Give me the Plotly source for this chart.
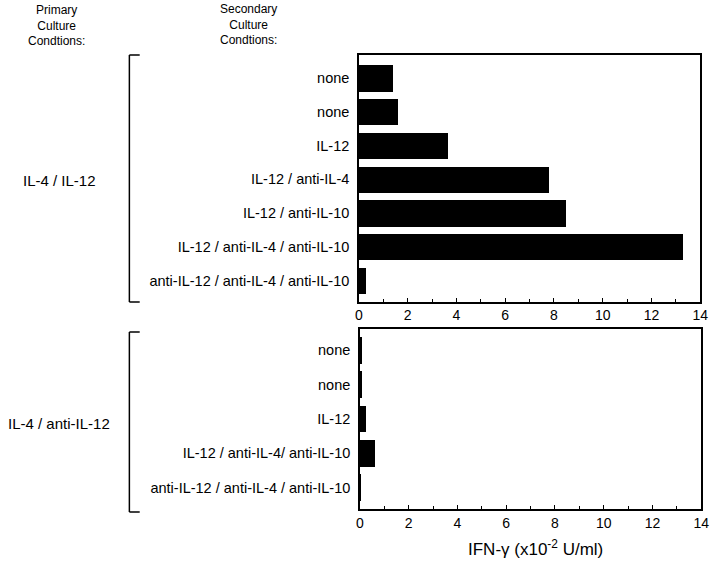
import plotly.graph_objects as go

# ---- data ----
top_labels = ["none", "none", "IL-12", "IL-12 / anti-IL-4", "IL-12 / anti-IL-10",
              "IL-12 / anti-IL-4 / anti-IL-10", "anti-IL-12 / anti-IL-4 / anti-IL-10"]
top_values = [1.40, 1.61, 3.66, 7.80, 8.49, 13.29, 0.27]

bottom_labels = ["none", "none", "IL-12", "IL-12 / anti-IL-4/ anti-IL-10",
                 "anti-IL-12 / anti-IL-4 / anti-IL-10"]
bottom_values = [0.05, 0.06, 0.26, 0.61, 0.03]

group_labels = ["IL-4 / IL-12", "IL-4 / anti-IL-12"]
primary_header = ["Primary", "Culture", "Condtions:"]
secondary_header = ["Secondary", "Culture", "Condtions:"]
x_ticks = [0, 2, 4, 6, 8, 10, 12, 14]

W, H = 720, 562
FONT = "Liberation Sans, Arial, sans-serif"

def px(x):
    return x / W

def py(y):
    return 1 - y / H

fig = go.Figure()
fig.add_trace(go.Bar(x=top_values, y=list(range(len(top_values))), orientation="h",
                     marker=dict(color="black", line=dict(width=0)), width=0.78,
                     xaxis="x", yaxis="y", showlegend=False))
fig.add_trace(go.Bar(x=bottom_values, y=list(range(len(bottom_values))), orientation="h",
                     marker=dict(color="black", line=dict(width=0)), width=0.78,
                     xaxis="x2", yaxis="y2", showlegend=False))

axis_common = dict(showline=True, linecolor="black", linewidth=1.5, mirror=True,
                   showgrid=False, zeroline=False)
xcommon = dict(axis_common, range=[0, 14], tickvals=x_ticks, ticks="inside", ticklen=4,
               tickcolor="black", tickwidth=1,
               minor=dict(ticks="inside", ticklen=3, dtick=1, tickcolor="black", tickwidth=1),
               tickfont=dict(size=14, color="black", family=FONT))
ycat_font = dict(size=14.5, color="black", family=FONT)

fig.update_layout(
    width=W, height=H, margin=dict(l=0, r=0, t=0, b=0),
    plot_bgcolor="white", paper_bgcolor="white", bargap=0,
    font=dict(family=FONT, color="black"),
    xaxis=dict(xcommon, domain=[px(361), px(708)], anchor="y"),
    yaxis=dict(axis_common, domain=[py(301.7), py(54.7)], anchor="x",
               range=[6.63, -0.70], tickvals=list(range(len(top_labels))),
               ticktext=top_labels, ticks="", ticklabelstandoff=5, tickfont=ycat_font),
    xaxis2=dict(xcommon, domain=[px(362), px(709)], anchor="y2"),
    yaxis2=dict(axis_common, domain=[py(509), py(329)], anchor="x2",
                range=[4.62, -0.62], tickvals=list(range(len(bottom_labels))),
                ticktext=bottom_labels, ticks="", ticklabelstandoff=5, tickfont=ycat_font),
)

# brackets
shapes = []
for (y0, y1) in [(55, 302), (332, 512)]:
    shapes.append(dict(type="line", xref="paper", yref="paper", x0=px(127.5), x1=px(127.5),
                       y0=py(y0), y1=py(y1), line=dict(color="black", width=1.5)))
    shapes.append(dict(type="line", xref="paper", yref="paper", x0=px(127.5), x1=px(138),
                       y0=py(y0), y1=py(y0), line=dict(color="black", width=1.5)))
    shapes.append(dict(type="line", xref="paper", yref="paper", x0=px(127.5), x1=px(138),
                       y0=py(y1), y1=py(y1), line=dict(color="black", width=1.5)))
fig.update_layout(shapes=shapes)

ann = [
    dict(text="<br>".join(primary_header), x=px(53), y=py(1), xanchor="center",
         yanchor="top", font=dict(size=12)),
    dict(text="<br>".join(secondary_header), x=px(249), y=py(0), xanchor="center",
         yanchor="top", font=dict(size=12)),
    dict(text=group_labels[0], x=px(17), y=py(180), xanchor="left", yanchor="middle",
         font=dict(size=15)),
    dict(text=group_labels[1], x=px(2), y=py(423), xanchor="left", yanchor="middle",
         font=dict(size=15)),
    dict(text="IFN-γ (x10<sup>-2</sup> U/ml)", x=px(540), y=py(548), xanchor="center",
         yanchor="middle", font=dict(size=17)),
]
for a in ann:
    a.update(xref="paper", yref="paper", showarrow=False)
fig.update_layout(annotations=ann)

fig.write_html("out.html", config={"displayModeBar": False},
               post_script="document.body.style.margin='0';document.body.style.padding='0';"
                           "document.body.style.overflow='hidden';")
